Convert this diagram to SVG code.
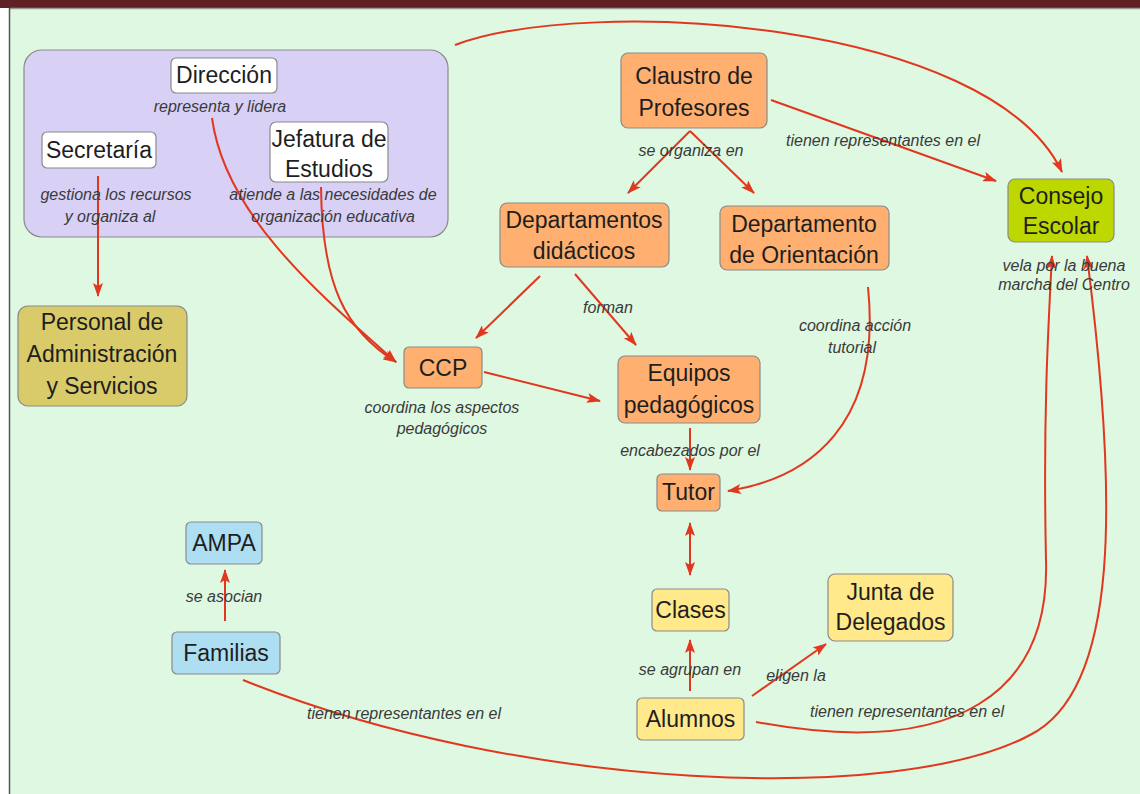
<svg xmlns="http://www.w3.org/2000/svg" width="1140" height="794" viewBox="0 0 1140 794">
<defs>
<marker id="ah" viewBox="0 0 14 10" refX="13" refY="5" markerWidth="14" markerHeight="10" markerUnits="userSpaceOnUse" orient="auto-start-reverse">
<path d="M0,0 L14,5 L0,10 L3,5 Z" fill="#E2371F"/>
</marker>
<style>
.n text{font-family:"Liberation Sans",Arial,sans-serif;font-size:23px;fill:#1e1e1e;text-anchor:middle}
.n rect{stroke:#8a8a8a;stroke-width:1.2}
.lb{font-family:"Liberation Sans",Arial,sans-serif;font-size:16px;font-style:italic;fill:#3a3a3a;text-anchor:middle}
.c path{fill:none;stroke:#E2371F;stroke-width:2}
.w{fill:#ffffff}.o{fill:#FFB070}.y{fill:#FFE98A}.b{fill:#ADDEF2}
</style>
</defs>
<rect x="0" y="0" width="1140" height="794" fill="#ffffff"/>
<rect x="10" y="9" width="1130" height="785" fill="#DEF8E1"/>
<rect x="0" y="0" width="1140" height="8" fill="#5E2124"/>
<line x1="10" y1="8.5" x2="1140" y2="8.5" stroke="#9a9a9a" stroke-width="1.5"/>
<line x1="9.5" y1="8" x2="9.5" y2="794" stroke="#555" stroke-width="1.5"/>

<g id="grupo-direccion">
<rect x="24" y="50" width="424" height="187" rx="18" fill="#D8D0F5" stroke="#8a8a8a" stroke-width="1.2"/>
</g>

<g class="c" id="connectors">
<path d="M98,176 L98,296" marker-end="url(#ah)"/>
<path d="M212,118 C225,215 320,295 396,362" marker-end="url(#ah)"/>
<path d="M321,187 C322,285 345,330 396,362" marker-end="url(#ah)"/>
<path d="M455,45 C590,-5 990,20 1062,172" marker-end="url(#ah)"/>
<path d="M771,100 L996,181" marker-end="url(#ah)"/>
<path d="M690,131 L628,193" marker-end="url(#ah)"/>
<path d="M690,131 L754,193" marker-end="url(#ah)"/>
<path d="M540,276 L476,338" marker-end="url(#ah)"/>
<path d="M575,274 L636,345" marker-end="url(#ah)"/>
<path d="M484,372 L600,401" marker-end="url(#ah)"/>
<path d="M868,287 C882,425 810,478 728,491" marker-end="url(#ah)"/>
<path d="M690,428 L690,470" marker-end="url(#ah)"/>
<path d="M690,523 L690,575" marker-start="url(#ah)" marker-end="url(#ah)"/>
<path d="M690,691 L690,640" marker-end="url(#ah)"/>
<path d="M752,696 L826,644" marker-end="url(#ah)"/>
<path d="M756,722 C960,760 1050,690 1046,560 C1043,420 1048,330 1052,256" marker-end="url(#ah)"/>
<path d="M225,621 L225,570" marker-end="url(#ah)"/>
<path d="M243,680 C520,792 900,805 1030,735 C1120,690 1118,500 1087,256" marker-end="url(#ah)"/>
</g>

<g class="n" id="direccion"><rect class="w" x="171" y="58" width="106" height="35" rx="5"/><text x="224" y="83">Dirección</text></g>
<g class="n" id="secretaria"><rect class="w" x="42" y="132" width="114" height="36" rx="5"/><text x="99" y="158">Secretaría</text></g>
<g class="n" id="jefatura"><rect class="w" x="270" y="122" width="118" height="60" rx="6"/><text x="329" y="147">Jefatura de</text><text x="329" y="177">Estudios</text></g>
<g class="n" id="personal"><rect x="18" y="306" width="169" height="100" rx="10" fill="#D9CA6A"/><text x="102" y="330">Personal de</text><text x="102" y="362">Administración</text><text x="102" y="394">y Servicios</text></g>
<g class="n" id="claustro"><rect class="o" x="621" y="53" width="146" height="75" rx="7"/><text x="694" y="84">Claustro de</text><text x="694" y="116">Profesores</text></g>
<g class="n" id="consejo"><rect x="1008" y="179" width="106" height="63" rx="7" fill="#BCD800"/><text x="1061" y="204">Consejo</text><text x="1061" y="234">Escolar</text></g>
<g class="n" id="dept-didacticos"><rect class="o" x="500" y="203" width="169" height="64" rx="7"/><text x="584" y="228">Departamentos</text><text x="584" y="259">didácticos</text></g>
<g class="n" id="dept-orientacion"><rect class="o" x="720" y="206" width="169" height="64" rx="7"/><text x="804" y="232">Departamento</text><text x="804" y="263">de Orientación</text></g>
<g class="n" id="ccp"><rect class="o" x="404" y="347" width="78" height="41" rx="5"/><text x="443" y="376">CCP</text></g>
<g class="n" id="equipos"><rect class="o" x="618" y="356" width="142" height="67" rx="7"/><text x="689" y="381">Equipos</text><text x="689" y="413">pedagógicos</text></g>
<g class="n" id="tutor"><rect class="o" x="657" y="474" width="63" height="37" rx="5"/><text x="688.5" y="500">Tutor</text></g>
<g class="n" id="ampa"><rect class="b" x="186" y="522" width="76" height="42" rx="5"/><text x="224" y="551">AMPA</text></g>
<g class="n" id="familias"><rect class="b" x="172" y="632" width="108" height="42" rx="5"/><text x="226" y="661">Familias</text></g>
<g class="n" id="clases"><rect class="y" x="652" y="589" width="77" height="42" rx="5"/><text x="690.5" y="618">Clases</text></g>
<g class="n" id="alumnos"><rect class="y" x="637" y="698" width="107" height="42" rx="5"/><text x="690.5" y="727">Alumnos</text></g>
<g class="n" id="junta"><rect class="y" x="828" y="574" width="125" height="67" rx="7"/><text x="890.5" y="600">Junta de</text><text x="890.5" y="630">Delegados</text></g>

<g id="labels">
<text class="lb" x="220" y="112">representa y lidera</text>
<text class="lb" x="116" y="200">gestiona los recursos</text>
<text class="lb" x="110" y="222">y organiza al</text>
<text class="lb" x="333" y="200">atiende a las necesidades de</text>
<text class="lb" x="333" y="222">organización educativa</text>
<text class="lb" x="691" y="156">se organiza en</text>
<text class="lb" x="883" y="146">tienen representantes en el</text>
<text class="lb" x="1064" y="271">vela por la buena</text>
<text class="lb" x="1064" y="290">marcha del Centro</text>
<text class="lb" x="608" y="313">forman</text>
<text class="lb" x="855" y="331">coordina acción</text>
<text class="lb" x="852" y="353">tutorial</text>
<text class="lb" x="442" y="413">coordina los aspectos</text>
<text class="lb" x="442" y="434">pedagógicos</text>
<text class="lb" x="690" y="456">encabezados por el</text>
<text class="lb" x="224" y="602">se asocian</text>
<text class="lb" x="690" y="675">se agrupan en</text>
<text class="lb" x="796" y="681">eligen la</text>
<text class="lb" x="404" y="719">tienen representantes en el</text>
<text class="lb" x="907" y="717">tienen representantes en el</text>
</g>
</svg>
